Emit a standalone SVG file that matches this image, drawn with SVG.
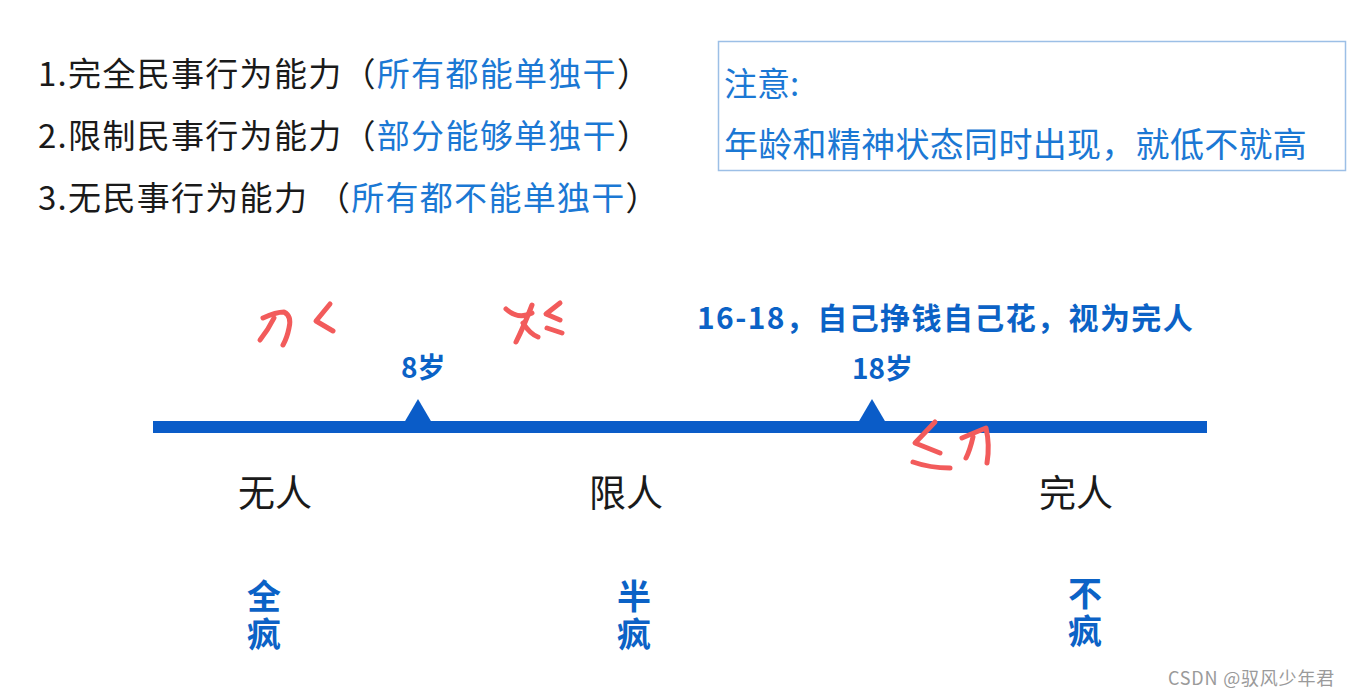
<svg xmlns="http://www.w3.org/2000/svg" width="1355" height="696" viewBox="0 0 1355 696">
<style>
.t{font-family:"Noto Sans CJK SC","Noto Sans",sans-serif;}
.blk{fill:#1a1a1a;}
.lb{fill:#1b78d4;}
.bb{fill:#0b62c6;font-weight:bold;}
.ls{letter-spacing:1.3px;}
.vt{writing-mode:vertical-rl;letter-spacing:4px;}
.ink{fill:none;stroke:#f25b5b;stroke-width:5;stroke-linecap:round;stroke-linejoin:round;}
</style>
<rect width="1355" height="696" fill="#ffffff"/>
<g id="list">
<text class="t blk ls" x="38" y="86" font-size="33">1.完全民事行为能力（<tspan class="lb">所有都能单独干</tspan>）</text>
<text class="t blk ls" x="38" y="148" font-size="33">2.限制民事行为能力（<tspan class="lb">部分能够单独干</tspan>）</text>
<text class="t blk ls" x="38" y="210" font-size="33">3.无民事行为能力 （<tspan class="lb">所有都不能单独干</tspan>）</text>
</g>
<g id="note">
<rect x="718.5" y="41.5" width="627" height="129" fill="none" stroke="#9cbfe6" stroke-width="1.5"/>
<text class="t lb" x="724" y="96" font-size="33">注意:</text>
<text class="t lb" x="724" y="157" font-size="34" letter-spacing="0.3">年龄和精神状态同时出现，就低不就高</text>
</g>
<g id="connectors">
<rect x="153" y="421" width="1054" height="12" fill="#0a5cc8"/>
</g>
<g id="age8">
<polygon points="418,399 401,428 435,428" fill="#0a5cc8"/>
<text class="t bb" x="401" y="378" font-size="28">8岁</text>
</g>
<g id="age18">
<polygon points="872,399 855,428 889,428" fill="#0a5cc8"/>
<text class="t bb" x="852" y="379" font-size="28">18岁</text>
</g>
<g id="note1618">
<text class="t bb" x="697" y="329" font-size="30" letter-spacing="1.4">16-18，自己挣钱自己花，视为完人</text>
</g>
<g id="wuren">
<text class="t blk" x="238" y="507" font-size="37">无人</text>
<text class="t bb vt" x="264" y="579" font-size="34">全疯</text>
</g>
<g id="xianren">
<text class="t blk" x="589" y="507" font-size="37">限人</text>
<text class="t bb vt" x="634" y="579" font-size="34">半疯</text>
</g>
<g id="wanren">
<text class="t blk" x="1039" y="507" font-size="37">完人</text>
<text class="t bb vt" x="1085" y="576" font-size="34">不疯</text>
</g>
<g id="ink">
<path class="ink" d="M263,318 Q276,312 284,312 Q292,316 289,328 Q287,338 283,345"/>
<path class="ink" d="M274,318 Q268,330 260,340"/>
<path class="ink" d="M330,304 L316,321 L333,331"/>
<path class="ink" d="M506,309 Q518,320 532,313"/>
<path class="ink" d="M532,305 Q524,326 516,342"/>
<path class="ink" d="M523,323 Q530,334 538,337"/>
<path class="ink" d="M560,303 L546,314 L560,320"/>
<path class="ink" d="M547,328 L562,333"/>
<path class="ink" d="M935,422 L915,443 L940,453"/>
<path class="ink" d="M913,462 Q930,468 950,468"/>
<path class="ink" d="M962,438 Q976,432 986,428 Q990,445 987,463"/>
<path class="ink" d="M973,437 Q970,450 966,458"/>
</g>
<g id="watermark">
<text class="t" x="1168" y="685" font-size="18" letter-spacing="0.8" fill="#9a9a9a">CSDN @驭风少年君</text>
</g>
</svg>
